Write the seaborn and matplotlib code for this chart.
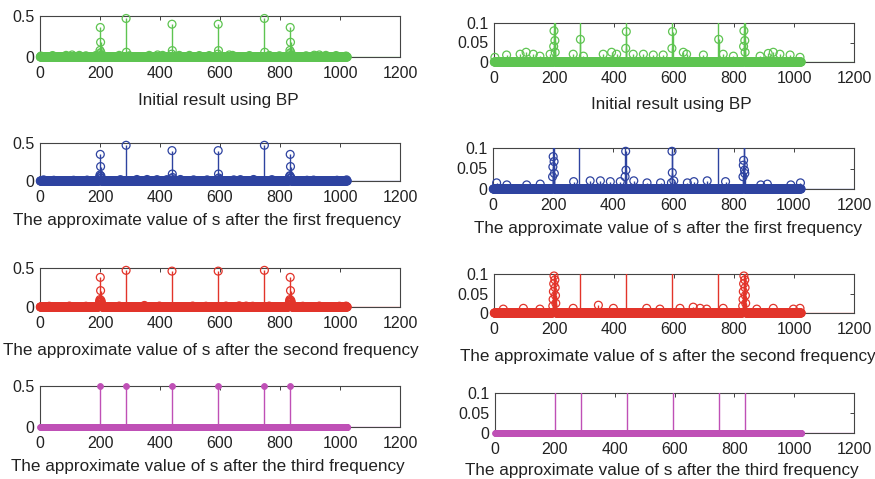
import numpy as np
import pandas as pd
import matplotlib
matplotlib.use("Agg")
import matplotlib.pyplot as plt
import seaborn as sns

# ---------------- data ----------------
N_SAMPLES = 1024  # signal length (indices 1..1024)

# Initial result using BP (green)
bp_idx = [199, 200, 201, 202, 203, 204, 287, 288, 439, 440, 441,
          593, 594, 595, 748, 749, 832, 833, 834, 835, 836, 837]
bp_val = [0.040, 0.080, 0.360, 0.180, 0.055, 0.025, 0.470, 0.058, 0.035, 0.400, 0.078,
          0.035, 0.400, 0.078, 0.470, 0.058, 0.040, 0.080, 0.360, 0.180, 0.055, 0.025]
bp_noise_idx = [3, 42, 87, 107, 131, 153, 187, 264, 298, 364, 392, 409, 464, 498,
                531, 564, 631, 642, 698, 764, 798, 887, 914, 931, 953, 987, 1020]
bp_noise_val = [0.012, 0.018, 0.020, 0.025, 0.020, 0.015, 0.020, 0.020, 0.015, 0.020,
                0.025, 0.020, 0.020, 0.020, 0.018, 0.018, 0.025, 0.020, 0.018, 0.020,
                0.015, 0.015, 0.022, 0.025, 0.020, 0.018, 0.012]

# After the first frequency (blue)
f1_idx = [198, 199, 200, 201, 202, 203, 204, 287, 439, 440, 441, 442,
          593, 594, 595, 596, 748, 831, 832, 833, 834, 835, 836, 837]
f1_val = [0.030, 0.054, 0.079, 0.350, 0.190, 0.067, 0.038, 0.470, 0.030, 0.400, 0.092, 0.046,
          0.015, 0.400, 0.092, 0.040, 0.470, 0.030, 0.058, 0.070, 0.350, 0.190, 0.046, 0.038]
f1_noise_idx = [12, 46, 112, 157, 268, 323, 357, 390, 423, 468, 512, 557,
                601, 646, 668, 712, 773, 890, 912, 990, 1022]
f1_noise_val = [0.015, 0.010, 0.010, 0.012, 0.018, 0.020, 0.020, 0.018, 0.018, 0.020,
                0.015, 0.015, 0.020, 0.015, 0.018, 0.020, 0.018, 0.010, 0.012, 0.010, 0.015]

# After the second frequency (red)
f2_idx = [196, 197, 198, 199, 200, 201, 202, 203, 204, 205, 206,
          287, 440, 594, 748,
          829, 830, 831, 832, 833, 834, 835, 836, 837, 838, 839]
f2_val = [0.018, 0.035, 0.055, 0.075, 0.095, 0.380, 0.210, 0.085, 0.065, 0.045, 0.025,
          0.470, 0.460, 0.460, 0.470,
          0.018, 0.035, 0.055, 0.075, 0.095, 0.380, 0.210, 0.085, 0.065, 0.045, 0.025]
f2_noise_idx = [31, 98, 153, 264, 348, 398, 509, 553, 620, 664, 687, 709,
                764, 876, 931, 998, 1020]
f2_noise_val = [0.010, 0.012, 0.010, 0.012, 0.020, 0.012, 0.012, 0.010, 0.012, 0.015,
                0.012, 0.010, 0.012, 0.010, 0.012, 0.010, 0.012]

# After the third frequency (magenta)
f3_idx = [201, 287, 440, 594, 748, 834]
f3_val = [0.50, 0.50, 0.50, 0.50, 0.50, 0.50]
f3_noise_idx = []
f3_noise_val = []

titles = ["Initial result using BP",
          "The approximate value of s after the first frequency",
          "The approximate value of s after the second frequency",
          "The approximate value of s after the third frequency"]
colors = ["#5ec451", "#2e43a0", "#e2342a", "#bf50b6"]
left_yticks = [0, 0.5]
left_ytick_labels = ["0", "0.5"]
right_yticks = [0, 0.05, 0.1]
right_ytick_labels = ["0", "0.05", "0.1"]
xticks = [0, 200, 400, 600, 800, 1000, 1200]


def build(idx, val, nidx, nval):
    y = np.zeros(N_SAMPLES)
    y[np.array(nidx, dtype=int) - 1] = nval
    y[np.array(idx, dtype=int) - 1] = val
    return pd.DataFrame({"n": np.arange(1, N_SAMPLES + 1), "s": y})


datasets = [build(bp_idx, bp_val, bp_noise_idx, bp_noise_val),
            build(f1_idx, f1_val, f1_noise_idx, f1_noise_val),
            build(f2_idx, f2_val, f2_noise_idx, f2_noise_val),
            build(f3_idx, f3_val, f3_noise_idx, f3_noise_val)]

# ---------------- figure ----------------
sns.set_theme(style="white")
plt.rcParams["font.family"] = ["Liberation Sans", "DejaVu Sans"]

W, H = 875, 479
fig = plt.figure(figsize=(W / 100, H / 100), dpi=100)

# axes rectangles in pixels: (left, top, right, bottom)
left_rects = [(40, 16, 400, 57), (40, 143, 400, 181), (40, 268, 400, 307), (40, 386, 400, 427)]
right_rects = [(494, 23, 854, 62), (493, 148, 854, 189), (494, 274, 854, 313), (495, 393, 854, 433)]
left_text = [(218, 100), (207, 221), (211, 351), (208, 466)]
right_text = [(671, 105), (668, 229), (668, 356), (662, 471)]


def px_rect(r):
    l, t, rr, b = r
    return [l / W, 1 - b / H, (rr - l) / W, (b - t) / H]


def draw(ax, df, color, ytop, third):
    ax.vlines(df["n"], 0, df["s"], color=color, lw=1.0, zorder=2)
    ax.axhline(0, color=color, lw=0.9, zorder=2)
    vis = df[df["s"] <= ytop + 1e-9]
    if third:
        sns.scatterplot(data=vis, x="n", y="s", ax=ax, marker="o", s=18,
                        color=color, edgecolor=color, linewidth=0.6,
                        legend=False, clip_on=False, zorder=3)
    else:
        sns.scatterplot(data=vis, x="n", y="s", ax=ax, marker="o", s=32,
                        facecolor="none", edgecolor=color, linewidth=0.9,
                        legend=False, clip_on=False, zorder=3)
    ax.set_xlim(0, 1200)
    ax.set_ylim(0, ytop)
    ax.set_xticks(xticks)
    ax.set_xticklabels([str(t) for t in xticks])
    ax.set_xlabel("")
    ax.set_ylabel("")
    ax.tick_params(axis="both", direction="in", length=3, width=0.6,
                   top=True, right=True, labelsize=11.5, colors="#222222")
    ax.tick_params(axis="x", pad=6.5)
    ax.tick_params(axis="y", pad=4)
    for sp in ax.spines.values():
        sp.set_color("#444444")
        sp.set_linewidth(0.8)
        sp.set_zorder(1)


for i in range(4):
    axl = fig.add_axes(px_rect(left_rects[i]))
    draw(axl, datasets[i], colors[i], 0.5, i == 3)
    axl.set_yticks(left_yticks)
    axl.set_yticklabels(left_ytick_labels)

    axr = fig.add_axes(px_rect(right_rects[i]))
    draw(axr, datasets[i], colors[i], 0.1, i == 3)
    axr.set_yticks(right_yticks)
    axr.set_yticklabels(right_ytick_labels)

    fig.text(left_text[i][0] / W, 1 - left_text[i][1] / H, titles[i],
             ha="center", va="center", fontsize=12.3, color="#222222")
    fig.text(right_text[i][0] / W, 1 - right_text[i][1] / H, titles[i],
             ha="center", va="center", fontsize=12.3, color="#222222")

fig.savefig("out.png", dpi=100, facecolor="white")
